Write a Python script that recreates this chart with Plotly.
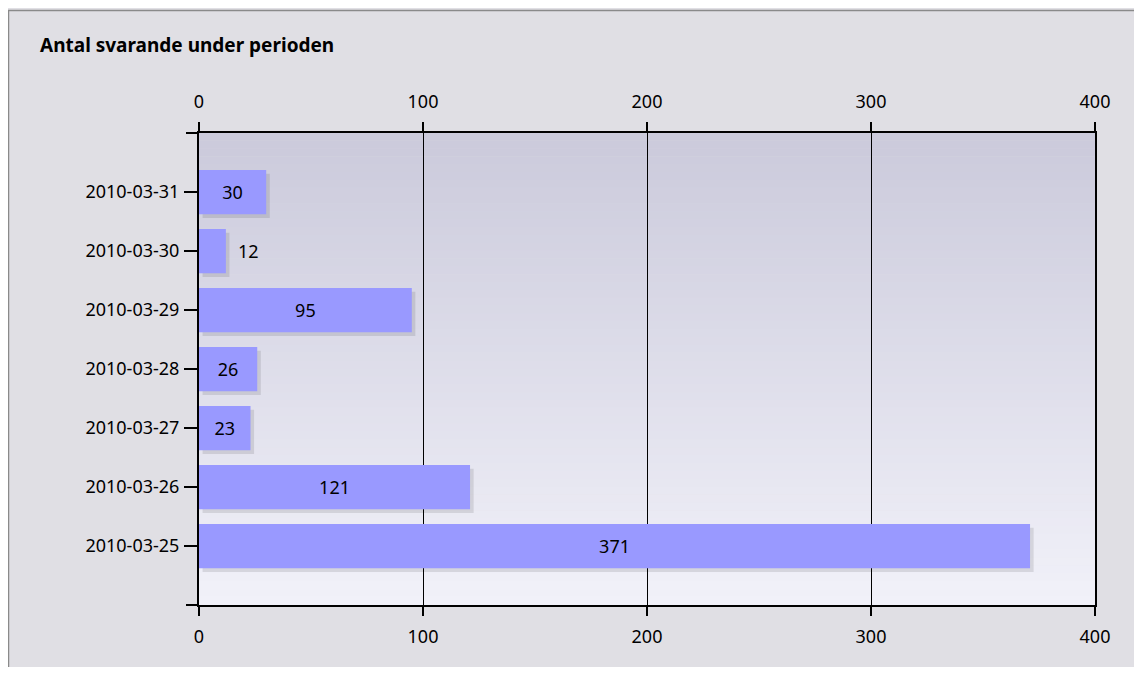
import plotly.graph_objects as go

categories = ["2010-03-25", "2010-03-26", "2010-03-27", "2010-03-28",
              "2010-03-29", "2010-03-30", "2010-03-31"]
values = [371, 121, 23, 26, 95, 12, 30]
tick_vals = [0, 100, 200, 300, 400]
title_text = "Antal svarande under perioden"

# figure is placed at (8, 8) of the page by the html body margin
OX, OY = 8, 8
W, H = 1126, 659
L, R, T, B = 199 - OX, W - (1095 - OX), 133 - OY, H - (605 - OY)
pw, ph = W - L - R, H - T - B
FONT = "Noto Sans"
FS = 18


def px_x(p):  # page pixel -> paper x
    return (p - OX - L) / pw


def px_y(p):  # page pixel -> paper y
    return (H - B - (p - OY)) / ph


fig = go.Figure()

# shadow bars
fig.add_trace(go.Bar(
    y=categories, x=values, base=1.6, orientation="h", width=0.75,
    offset=-0.375 - 0.065,
    marker=dict(color="rgba(0,0,0,0.10)", line=dict(width=0)),
    hoverinfo="skip", xaxis="x", yaxis="y", showlegend=False))

positions = ["inside" if v > 20 else "outside" for v in values]
fig.add_trace(go.Bar(
    y=categories, x=values, orientation="h", width=0.75,
    marker=dict(color="#9999ff", line=dict(width=0)),
    text=[str(v) if p == "inside" else "\u2002" + str(v)
          for v, p in zip(values, positions)],
    textposition=positions,
    insidetextanchor="middle", constraintext="none",
    textfont=dict(family=FONT, size=FS, color="#000000"),
    cliponaxis=False,
    xaxis="x2", yaxis="y", showlegend=False))

shapes = []
# gradient background strips
n = 60
c0 = (203, 202, 219)
c1 = (241, 241, 249)
for i in range(n):
    t = i / (n - 1)
    c = tuple(round(c0[k] + (c1[k] - c0[k]) * t) for k in range(3))
    shapes.append(dict(type="rect", xref="paper", yref="paper",
                       x0=0, x1=1, y0=1 - (i + 1) / n, y1=1 - i / n + 0.001,
                       fillcolor="rgb(%d,%d,%d)" % c, line=dict(width=0),
                       layer="below"))
# outer border (left and top edges)
shapes.append(dict(type="line", xref="paper", yref="paper",
                   x0=px_x(8.5), x1=px_x(8.5), y0=px_y(OY + H + 5), y1=px_y(10),
                   line=dict(color="#8a8a8a", width=1.5), layer="below"))
shapes.append(dict(type="line", xref="paper", yref="paper",
                   x0=px_x(8), x1=px_x(OX + W + 5), y0=px_y(10.5), y1=px_y(10.5),
                   line=dict(color="#8a8a8a", width=1.5), layer="below"))
# axis line extensions at corners
for py in (133, 605):
    shapes.append(dict(type="line", xref="paper", yref="paper",
                       x0=px_x(186), x1=0, y0=px_y(py), y1=px_y(py),
                       line=dict(color="#000000", width=2)))

axis_common = dict(range=[0, 400], tickvals=tick_vals, showgrid=True,
                   gridcolor="#000000", gridwidth=1.2, zeroline=False,
                   ticks="outside", ticklen=9, tickcolor="#000000", tickwidth=1.5,
                   showline=True, linecolor="#000000", linewidth=2,
                   tickfont=dict(family=FONT, size=FS, color="#000000"),
                   fixedrange=True)

fig.update_layout(
    width=W, height=H,
    margin=dict(l=L, r=R, t=T, b=B),
    paper_bgcolor="#e0dfe4",
    plot_bgcolor="rgba(0,0,0,0)",
    barmode="overlay",
    title=dict(text="<b>" + title_text + "</b>", x=(40 - OX) / W, xref="container",
               y=1 - (45 - OY) / H, yref="container", xanchor="left",
               yanchor="middle",
               font=dict(family=FONT, size=19, color="#000000")),
    xaxis=dict(side="bottom", ticklabelstandoff=5, **axis_common),
    xaxis2=dict(side="top", overlaying="x", ticklabelstandoff=7, **axis_common),
    yaxis=dict(type="category", categoryorder="array", categoryarray=categories,
               range=[-1, 7], ticks="outside", ticklen=13, tickcolor="#000000",
               tickwidth=2, showline=True, linecolor="#000000", linewidth=2,
               mirror=True, showgrid=False, zeroline=False,
               ticklabelstandoff=1,
               tickfont=dict(family=FONT, size=FS, color="#000000"),
               fixedrange=True),
    shapes=shapes,
)

fig.write_html("out.html")
